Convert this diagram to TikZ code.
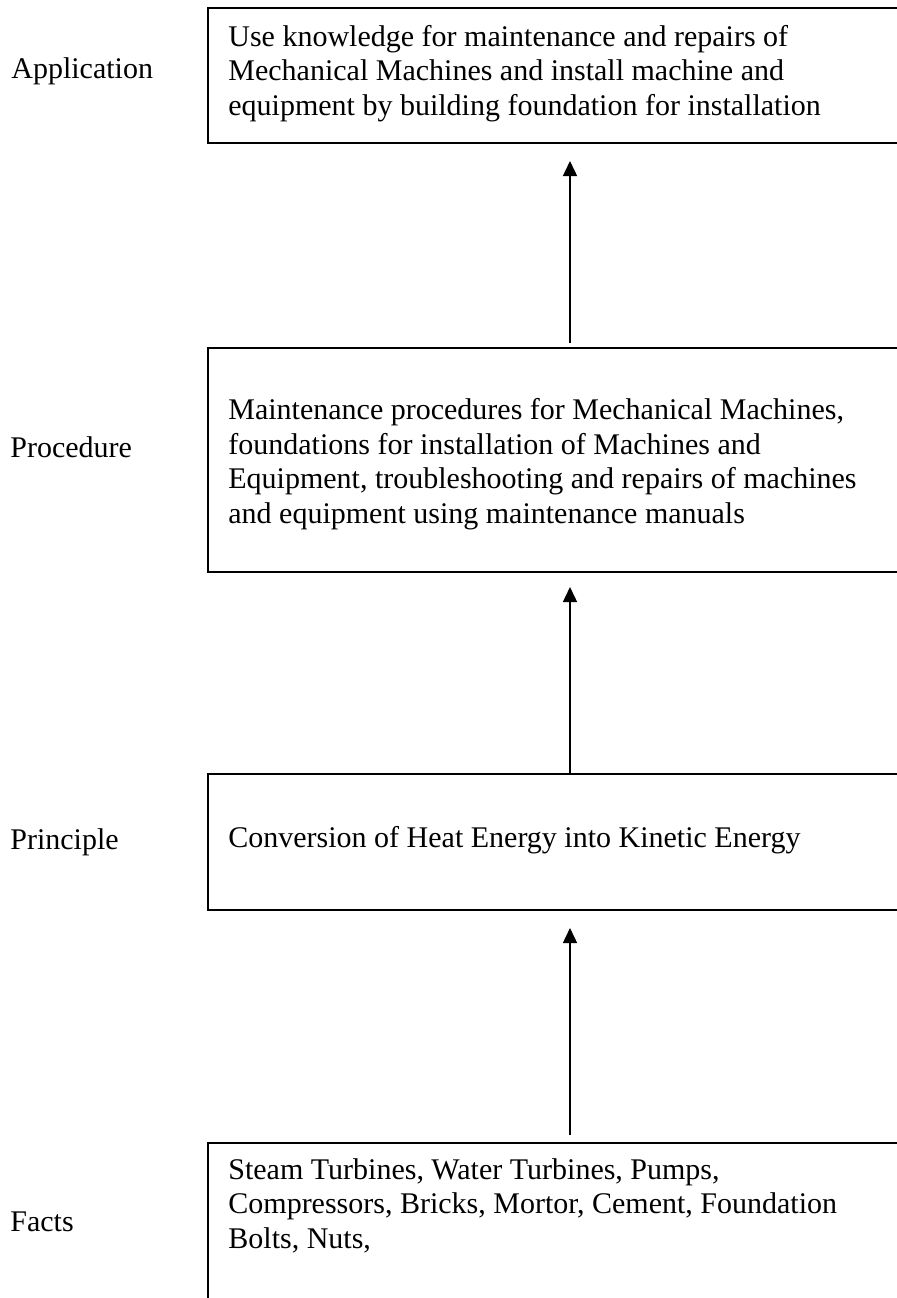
\documentclass[tikz,border=0pt]{standalone}
\usepackage{fontspec}
\setmainfont{Liberation Serif}
\usetikzlibrary{arrows.meta}
\begin{document}
\begin{tikzpicture}[x=0.5pt,y=-0.5pt,
  frame/.style={draw=black,line width=1pt},
  body/.style={anchor=base west,inner sep=0pt,align=left,font=\fontsize{15pt}{17.2pt}\selectfont},
  side/.style={anchor=base west,inner sep=0pt,font=\fontsize{15pt}{17.2pt}\selectfont},
  arr/.style={draw=black,line width=0.75pt,-{Triangle[length=7.5pt,width=7pt]}}]
\useasboundingbox (0,0) rectangle (897,1298);
% boxes
\path[frame] (208,8) rectangle (1000,143);
\path[frame] (208,348) rectangle (1000,572);
\path[frame] (208,774) rectangle (1000,910);
\path[frame] (208,1143) rectangle (1000,1400);
\coordinate (appS) at (570,143);
\coordinate (procN) at (570,348);
\coordinate (procS) at (570,572);
\coordinate (prinN) at (570,774);
\coordinate (prinS) at (570,910);
\coordinate (factN) at (570,1143);
% labels
\node[side] (lapp) at (11,78) {Application};
\node[side] (lproc) at (10,457) {Procedure};
\node[side] (lprin) at (10,849) {Principle};
\node[side] (lfact) at (10,1231) {Facts};
% texts (anchored at the baseline of the last line)
\node[body] (tapp) at (228,115) {Use knowledge for maintenance and repairs of\\Mechanical Machines and install machine and\\equipment by building foundation for installation};
\node[body] (tproc) at (228,523) {Maintenance procedures for Mechanical Machines,\\foundations for installation of Machines and\\Equipment, troubleshooting and repairs of machines\\and equipment using maintenance manuals};
\node[body] (tprin) at (228,847) {Conversion of Heat Energy into Kinetic Energy};
\node[body] (tfact) at (228,1248) {Steam Turbines, Water Turbines, Pumps,\\Compressors, Bricks, Mortor, Cement, Foundation\\Bolts, Nuts,};
% arrows
\draw[arr,shorten <=2.5pt,shorten >=9pt] (procN) -- (appS);
\draw[arr,shorten >=7.5pt] (prinN) -- (procS);
\draw[arr,shorten <=4pt,shorten >=9pt] (factN) -- (prinS);
\end{tikzpicture}
\end{document}
